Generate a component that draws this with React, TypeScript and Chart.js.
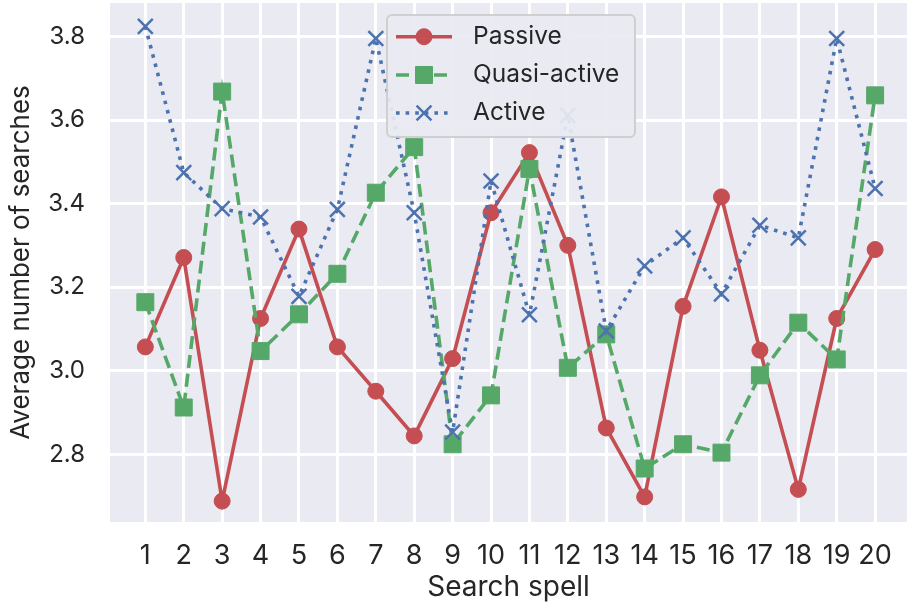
import React, { useEffect, useRef } from "react";
import { Chart, registerables } from "chart.js";

Chart.register(...registerables);

const spells = [1, 2, 3, 4, 5, 6, 7, 8, 9, 10, 11, 12, 13, 14, 15, 16, 17, 18, 19, 20];
const passive = [3.057, 3.271, 2.688, 3.125, 3.339, 3.057, 2.951, 2.844, 3.029, 3.378, 3.522, 3.3, 2.863, 2.698, 3.154, 3.416, 3.049, 2.716, 3.125, 3.29];
const quasiActive = [3.164, 2.912, 3.668, 3.047, 3.135, 3.232, 3.426, 3.535, 2.824, 2.941, 3.483, 3.007, 3.087, 2.766, 2.824, 2.804, 2.989, 3.115, 3.027, 3.659];
const active = [3.824, 3.474, 3.388, 3.368, 3.178, 3.386, 3.795, 3.378, 2.853, 3.454, 3.134, 3.611, 3.095, 3.251, 3.318, 3.184, 3.348, 3.318, 3.795, 3.436];
const yTicks = [2.8, 3.0, 3.2, 3.4, 3.6, 3.8];
const seriesNames = ["Passive", "Quasi-active", "Active"];

const FONT = "Inter, 'Noto Sans', sans-serif";
const TEXT = "#262626";
const RED = "#C44E52";
const GREEN = "#55A868";
const BLUE = "#4C72B0";

const bgPlugin = {
  id: "axesBg",
  beforeDraw(chart: any) {
    const { ctx, chartArea } = chart;
    ctx.save();
    ctx.fillStyle = "#EAEAF2";
    ctx.fillRect(chartArea.left, chartArea.top, chartArea.right - chartArea.left, chartArea.bottom - chartArea.top);
    ctx.restore();
  },
};

function drawMarker(ctx: CanvasRenderingContext2D, style: string, x: number, y: number, r: number, color: string, bw: number) {
  ctx.save();
  ctx.setLineDash([]);
  ctx.fillStyle = color;
  ctx.strokeStyle = color;
  ctx.lineWidth = bw;
  ctx.beginPath();
  if (style === "circle") {
    ctx.arc(x, y, r, 0, Math.PI * 2);
    ctx.fill();
    ctx.stroke();
  } else if (style === "rect") {
    const s = Math.SQRT1_2 * r;
    ctx.rect(x - s, y - s, 2 * s, 2 * s);
    ctx.fill();
    ctx.stroke();
  } else {
    const o = Math.SQRT1_2 * r;
    ctx.moveTo(x - o, y - o);
    ctx.lineTo(x + o, y + o);
    ctx.moveTo(x - o, y + o);
    ctx.lineTo(x + o, y - o);
    ctx.stroke();
  }
  ctx.restore();
}

const legendPlugin = {
  id: "boxLegend",
  afterDraw(chart: any) {
    const { ctx } = chart;
    const left = 387, top = 15, w = 248, h = 122, rad = 5;
    ctx.save();
    ctx.beginPath();
    ctx.moveTo(left + rad, top);
    ctx.lineTo(left + w - rad, top);
    ctx.arcTo(left + w, top, left + w, top + rad, rad);
    ctx.lineTo(left + w, top + h - rad);
    ctx.arcTo(left + w, top + h, left + w - rad, top + h, rad);
    ctx.lineTo(left + rad, top + h);
    ctx.arcTo(left, top + h, left, top + h - rad, rad);
    ctx.lineTo(left, top + rad);
    ctx.arcTo(left, top, left + rad, top, rad);
    ctx.closePath();
    ctx.fillStyle = "rgba(234,234,242,0.93)";
    ctx.fill();
    ctx.strokeStyle = "rgba(204,204,204,0.9)";
    ctx.lineWidth = 2;
    ctx.stroke();
    const rows = [36.7, 75, 113];
    chart.data.datasets.forEach((ds: any, i: number) => {
      const y = rows[i];
      ctx.save();
      ctx.strokeStyle = ds.borderColor;
      ctx.lineWidth = ds.borderWidth;
      ctx.lineCap = "butt";
      ctx.setLineDash(ds.borderDash || []);
      ctx.beginPath();
      ctx.moveTo(396, y);
      ctx.lineTo(452, y);
      ctx.stroke();
      ctx.restore();
      drawMarker(ctx, ds.pointStyle, 424, y, ds.pointRadius, ds.pointBackgroundColor, ds.pointBorderWidth);
      ctx.fillStyle = TEXT;
      ctx.font = `24.5px ${FONT}`;
      ctx.textBaseline = "middle";
      ctx.textAlign = "left";
      ctx.fillText(ds.label, 473, y);
    });
    ctx.restore();
  },
};

export default function App() {
  const ref = useRef<HTMLCanvasElement | null>(null);
  useEffect(() => {
    document.body.style.margin = "0";
    const canvas = ref.current;
    if (!canvas) return;
    const mk = (vals: number[]) => vals.map((v, i) => ({ x: spells[i], y: v }));
    const chart = new Chart(canvas, {
      type: "line",
      data: {
        datasets: [
          {
            label: seriesNames[0],
            data: mk(passive),
            borderColor: RED,
            backgroundColor: RED,
            borderWidth: 3.6,
            pointStyle: "circle",
            pointRadius: 8,
            pointBackgroundColor: RED,
            pointBorderColor: RED,
            pointBorderWidth: 1,
            order: 3,
          },
          {
            label: seriesNames[1],
            data: mk(quasiActive),
            borderColor: GREEN,
            backgroundColor: GREEN,
            borderWidth: 3.6,
            borderDash: [13, 6],
            pointStyle: "rect",
            pointRadius: 12,
            pointBackgroundColor: GREEN,
            pointBorderColor: GREEN,
            pointBorderWidth: 1,
            order: 2,
          },
          {
            label: seriesNames[2],
            data: mk(active),
            borderColor: BLUE,
            backgroundColor: BLUE,
            borderWidth: 3.6,
            borderDash: [3.6, 6],
            pointStyle: "crossRot",
            pointRadius: 10.5,
            pointBackgroundColor: BLUE,
            pointBorderColor: BLUE,
            pointBorderWidth: 2.5,
            order: 1,
          },
        ] as any,
      },
      options: {
        animation: false,
        responsive: false,
        devicePixelRatio: 1,
        layout: { autoPadding: false, padding: { top: 3, right: 0, left: 0, bottom: 0 } },
        plugins: { legend: { display: false }, tooltip: { enabled: false }, title: { display: false } },
        elements: { line: { tension: 0, borderCapStyle: "butt" } },
        scales: {
          x: {
            type: "linear",
            min: 0.08,
            max: 20.83,
            afterBuildTicks: (s: any) => {
              s.ticks = spells.map((v) => ({ value: v }));
            },
            afterFit: (s: any) => {
              s.height = 88;
              s.paddingLeft = 0;
              s.paddingRight = 0;
            },
            grid: { color: "#ffffff", lineWidth: 3, drawTicks: false },
            border: { display: false },
            ticks: {
              autoSkip: false,
              maxRotation: 0,
              padding: 18,
              color: TEXT,
              font: { family: FONT, size: 27 },
              callback: (v: any) => String(v),
            },
            title: {
              display: true,
              text: "Search spell",
              color: TEXT,
              font: { family: FONT, size: 28 },
              padding: { top: 0, bottom: 6 },
            },
          },
          y: {
            type: "linear",
            min: 2.638,
            max: 3.88,
            afterBuildTicks: (s: any) => {
              s.ticks = yTicks.map((v) => ({ value: v }));
            },
            afterFit: (s: any) => {
              s.width = 110;
              s.paddingTop = 0;
              s.paddingBottom = 0;
            },
            grid: { color: "#ffffff", lineWidth: 3, drawTicks: false },
            border: { display: false },
            ticks: {
              padding: 25,
              color: TEXT,
              font: { family: FONT, size: 24 },
              callback: (v: any) => Number(v).toFixed(1),
            },
            title: {
              display: true,
              text: "Average number of searches",
              color: TEXT,
              font: { family: FONT, size: 26 },
              padding: { top: 6, bottom: 0 },
            },
          },
        },
      } as any,
      plugins: [bgPlugin, legendPlugin],
    });
    return () => chart.destroy();
  }, []);
  return (
    <div style={{ width: 907, height: 610, position: "relative" }}>
      <canvas ref={ref} width={907} height={610} style={{ display: "block", width: 907, height: 610 }} />
    </div>
  );
}
